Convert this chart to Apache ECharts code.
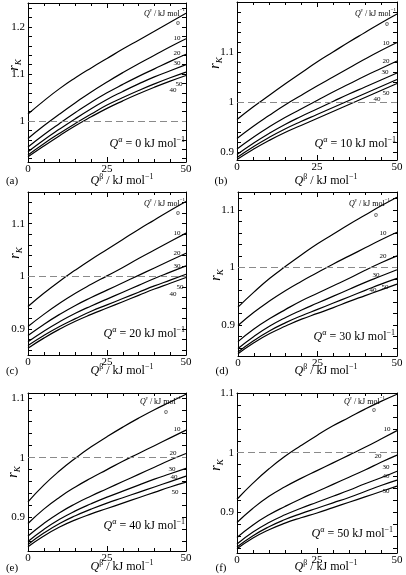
<!DOCTYPE html>
<html>
<head>
<meta charset="utf-8">
<script src="https://cdn.jsdelivr.net/npm/echarts@6/dist/echarts.min.js"></script>
<style>
html, body { margin: 0; padding: 0; background: #fff; }
#main { width: 406px; height: 575px; }
</style>
</head>
<body>
<div id="main"></div>
<script>
// Q^beta values (x axis)
var xs = [0, 5, 10, 15, 20, 25, 30, 35, 40, 45, 50];
var gammaNames = ['0', '10', '20', '30', '40', '50'];
var xLabels = [0, 25, 50];

// (a) Q^alpha = 0
var a0  = [1.015, 1.043, 1.069, 1.092, 1.113, 1.133, 1.153, 1.172, 1.191, 1.210, 1.229];
var a10 = [0.963, 0.990, 1.015, 1.039, 1.062, 1.083, 1.103, 1.122, 1.140, 1.158, 1.175];
var a20 = [0.945, 0.971, 0.995, 1.018, 1.040, 1.060, 1.078, 1.095, 1.111, 1.127, 1.142];
var a30 = [0.935, 0.960, 0.983, 1.005, 1.026, 1.046, 1.063, 1.079, 1.094, 1.107, 1.120];
var a40 = [0.928, 0.952, 0.974, 0.995, 1.015, 1.034, 1.050, 1.065, 1.079, 1.092, 1.104];
var a50 = [0.924, 0.947, 0.969, 0.990, 1.009, 1.027, 1.043, 1.058, 1.072, 1.085, 1.097];
// (b) Q^alpha = 10
var b0  = [0.965, 0.990, 1.013, 1.036, 1.058, 1.080, 1.100, 1.120, 1.139, 1.158, 1.176];
var b10 = [0.927, 0.951, 0.973, 0.994, 1.013, 1.032, 1.050, 1.068, 1.086, 1.103, 1.119];
var b20 = [0.906, 0.929, 0.950, 0.969, 0.986, 1.003, 1.020, 1.036, 1.052, 1.067, 1.082];
var b30 = [0.895, 0.917, 0.937, 0.955, 0.971, 0.986, 1.001, 1.016, 1.030, 1.044, 1.058];
var b40 = [0.889, 0.910, 0.929, 0.946, 0.961, 0.975, 0.989, 1.003, 1.017, 1.031, 1.045];
var b50 = [0.885, 0.905, 0.923, 0.939, 0.953, 0.967, 0.981, 0.995, 1.009, 1.023, 1.037];
// (c) Q^alpha = 20
var c0  = [0.943, 0.968, 0.991, 1.012, 1.032, 1.051, 1.070, 1.089, 1.107, 1.125, 1.142];
var c10 = [0.905, 0.928, 0.949, 0.968, 0.985, 1.001, 1.017, 1.034, 1.050, 1.066, 1.082];
var c20 = [0.888, 0.909, 0.928, 0.945, 0.960, 0.974, 0.988, 1.002, 1.016, 1.030, 1.044];
var c30 = [0.876, 0.896, 0.914, 0.930, 0.944, 0.957, 0.970, 0.983, 0.996, 1.008, 1.020];
var c40 = [0.869, 0.888, 0.905, 0.920, 0.934, 0.946, 0.958, 0.970, 0.982, 0.993, 1.004];
var c50 = [0.864, 0.883, 0.900, 0.915, 0.928, 0.940, 0.952, 0.964, 0.976, 0.987, 0.998];
// (d) Q^alpha = 30
var d0  = [0.931, 0.957, 0.981, 1.002, 1.022, 1.041, 1.058, 1.075, 1.091, 1.107, 1.122];
var d10 = [0.899, 0.922, 0.942, 0.960, 0.976, 0.991, 1.006, 1.020, 1.034, 1.048, 1.061];
var d20 = [0.871, 0.893, 0.911, 0.927, 0.942, 0.955, 0.968, 0.981, 0.995, 1.008, 1.020];
var d30 = [0.859, 0.880, 0.898, 0.913, 0.926, 0.938, 0.950, 0.962, 0.974, 0.985, 0.996];
var d40 = [0.853, 0.873, 0.890, 0.904, 0.916, 0.927, 0.938, 0.949, 0.960, 0.971, 0.981];
var d50 = [0.850, 0.869, 0.885, 0.898, 0.910, 0.920, 0.930, 0.941, 0.951, 0.961, 0.971];
// (e) Q^alpha = 40
var e0  = [0.926, 0.954, 0.978, 0.999, 1.018, 1.035, 1.051, 1.066, 1.080, 1.093, 1.106];
var e10 = [0.890, 0.914, 0.934, 0.951, 0.966, 0.980, 0.994, 1.007, 1.020, 1.033, 1.046];
var e20 = [0.869, 0.890, 0.908, 0.923, 0.936, 0.948, 0.960, 0.972, 0.984, 0.996, 1.007];
var e30 = [0.860, 0.880, 0.897, 0.911, 0.923, 0.934, 0.944, 0.954, 0.964, 0.973, 0.982];
var e40 = [0.855, 0.874, 0.890, 0.903, 0.914, 0.924, 0.933, 0.942, 0.951, 0.960, 0.969];
var e50 = [0.851, 0.869, 0.884, 0.896, 0.906, 0.915, 0.924, 0.933, 0.942, 0.951, 0.959];
// (f) Q^alpha = 50
var f0  = [0.922, 0.949, 0.973, 0.994, 1.012, 1.029, 1.045, 1.059, 1.073, 1.086, 1.098];
var f10 = [0.883, 0.907, 0.927, 0.943, 0.957, 0.970, 0.983, 0.996, 1.009, 1.023, 1.037];
var f20 = [0.858, 0.879, 0.896, 0.910, 0.923, 0.935, 0.947, 0.959, 0.971, 0.984, 0.996];
var f30 = [0.847, 0.867, 0.883, 0.896, 0.907, 0.917, 0.927, 0.937, 0.948, 0.958, 0.969];
var f40 = [0.842, 0.861, 0.876, 0.888, 0.898, 0.907, 0.916, 0.925, 0.935, 0.945, 0.954];
var f50 = [0.839, 0.857, 0.871, 0.882, 0.891, 0.899, 0.908, 0.917, 0.926, 0.935, 0.944];

var yLabelsA = [1, 1.1, 1.2];
var yLabelsB = [0.9, 1, 1.1];

var font = 'Liberation Serif';

function steps(lo, hi, st) {
    var out = [];
    for (var v = lo; v <= hi + 1e-9; v += st) out.push(Math.round(v * 1000) / 1000);
    return out;
}

var panels = [
    { grid: { left: 28, top: 3, width: 158, height: 159 }, min: 0.913, max: 1.251, labels: yLabelsA,
      curves: [a0, a10, a20, a30, a40, a50], qa: '0',
      letter: [12, 181], title: [122, 181], qaPos: [185, 144], qgPos: [185, 14], rk: [14, 65],
      cl: [[178, 23], [177, 38], [177, 53], [177, 63], [173, 90], [179, 84]] },
    { grid: { left: 237, top: 2, width: 160, height: 158 }, min: 0.884, max: 1.2, labels: yLabelsB,
      curves: [b0, b10, b20, b30, b40, b50], qa: '10',
      letter: [221, 181], title: [326, 181], qaPos: [396, 144], qgPos: [396, 14], rk: [215, 63],
      cl: [[387, 24], [386, 43], [386, 61], [385, 72], [377, 99], [386, 93]] },
    { grid: { left: 28, top: 192, width: 158, height: 163 }, min: 0.851, max: 1.16, labels: yLabelsB,
      curves: [c0, c10, c20, c30, c40, c50], qa: '20',
      letter: [12, 371], title: [122, 371], qaPos: [185, 334], qgPos: [185, 204], rk: [15, 253],
      cl: [[178, 213], [177, 233], [177, 253], [177, 266], [173, 294], [180, 287]] },
    { grid: { left: 238, top: 192, width: 159, height: 164 }, min: 0.846, max: 1.131, labels: yLabelsB,
      curves: [d0, d10, d20, d30, d40, d50], qa: '30',
      letter: [222, 371], title: [326, 371], qaPos: [395, 337], qgPos: [390, 204], rk: [216, 275],
      cl: [[376, 215], [383, 233], [383, 256], [376, 275], [373, 290], [385, 287]] },
    { grid: { left: 28, top: 393, width: 158, height: 158 }, min: 0.844, max: 1.108, labels: yLabelsB,
      curves: [e0, e10, e20, e30, e40, e50], qa: '40',
      letter: [12, 568], title: [122, 567], qaPos: [185, 526], qgPos: [181, 402], rk: [13, 472],
      cl: [[166, 412], [177, 429], [173, 453], [172, 469], [174, 477], [175, 492]] },
    { grid: { left: 237, top: 393, width: 160, height: 160 }, min: 0.832, max: 1.1, labels: yLabelsB,
      curves: [f0, f10, f20, f30, f40, f50], qa: '50',
      letter: [221, 568], title: [326, 567], qaPos: [393, 534], qgPos: [385, 402], rk: [216, 465],
      cl: [[374, 410], [387, 429], [378, 456], [386, 467], [386, 476], [386, 491]] }
];

var black = { color: '#000', width: 1 };

function xAx(i, pos, showLabel) {
    return {
        type: 'value', gridIndex: i, position: pos, min: 0, max: 50, interval: 25,
        axisLine: { show: true, onZero: false, lineStyle: black },
        axisTick: { show: true, inside: true, length: 5, lineStyle: black },
        minorTick: { show: true, splitNumber: 5, length: 3, lineStyle: black },
        splitLine: { show: false }, minorSplitLine: { show: false },
        axisLabel: { show: showLabel, color: '#000', fontFamily: font, fontSize: 11, margin: 2 }
    };
}

function yAx(i, p, pos, showLabel) {
    return {
        type: 'value', gridIndex: i, position: pos, min: p.min, max: p.max,
        axisLine: { show: true, onZero: false, lineStyle: black },
        axisTick: { show: true, inside: true, length: 4, lineStyle: black,
                    customValues: steps(Math.ceil(p.min * 50) / 50, p.max - 0.005, 0.02) },
        splitLine: { show: false },
        axisLabel: { show: showLabel, customValues: p.labels, color: '#000', fontFamily: font,
                     fontSize: 11, margin: 3, formatter: function (v) { return String(v); } }
    };
}

function rich(size) {
    var s = Math.round(size * 0.65);
    return {
        i: { fontFamily: font, fontStyle: 'italic', fontSize: size, lineHeight: size + 5, fill: '#000' },
        s: { fontFamily: font, fontSize: s, verticalAlign: 'top', lineHeight: s, fill: '#000' },
        k: { fontFamily: font, fontStyle: 'italic', fontSize: s, verticalAlign: 'bottom', lineHeight: s, fill: '#000' }
    };
}

function T(x, y, text, size, align, rot) {
    return {
        type: 'text', x: x, y: y, rotation: rot || 0, silent: true,
        style: {
            text: text, fill: '#000', font: size + 'px "' + font + '"',
            align: align || 'center', textAlign: align || 'center',
            verticalAlign: 'middle', textVerticalAlign: 'middle', rich: rich(size)
        }
    };
}

var grids = [], xAxes = [], yAxes = [], series = [], graphics = [];
panels.forEach(function (p, i) {
    grids.push({ left: p.grid.left, top: p.grid.top, width: p.grid.width, height: p.grid.height,
                 containLabel: false, outerBoundsMode: 'none', show: false });
    xAxes.push(xAx(i, 'bottom', true), xAx(i, 'top', false));
    yAxes.push(yAx(i, p, 'left', true), yAx(i, p, 'right', false));
    p.curves.forEach(function (c, k) {
        var s = {
            type: 'line', xAxisIndex: 2 * i, yAxisIndex: 2 * i,
            data: xs.map(function (x, j) { return [x, c[j]]; }),
            showSymbol: false, symbol: 'none', smooth: 0.5, silent: true,
            lineStyle: { color: '#000', width: 1.2 }
        };
        if (k === 0) {
            s.markLine = {
                silent: true, symbol: ['none', 'none'], label: { show: false },
                lineStyle: { color: '#8a8a8a', type: [7, 4], width: 1 },
                data: [{ yAxis: 1 }]
            };
        }
        series.push(s);
    });
    graphics.push(T(p.letter[0], p.letter[1], '(' + 'abcdef'[i] + ')', 11));
    graphics.push(T(p.title[0], p.title[1], '{i|Q}{s|β} / kJ mol{s|−1}', 12));
    graphics.push(T(p.qaPos[0], p.qaPos[1], '{i|Q}{s|α} = ' + p.qa + ' kJ mol{s|−1}', 12, 'right'));
    graphics.push(T(p.qgPos[0], p.qgPos[1], '{i|Q}{s|γ} / kJ mol{s|−1}', 8, 'right'));
    graphics.push(T(p.rk[0], p.rk[1], '{i|r}{k|K}', 14, 'center', Math.PI / 2));
    p.cl.forEach(function (pos, k) {
        graphics.push(T(pos[0], pos[1], gammaNames[k], 7));
    });
});

var chart = echarts.init(document.getElementById('main'), null, { renderer: 'canvas' });
chart.setOption({
    animation: false,
    backgroundColor: '#fff',
    grid: grids,
    xAxis: xAxes,
    yAxis: yAxes,
    series: series,
    graphic: graphics
});
</script>
</body>
</html>
